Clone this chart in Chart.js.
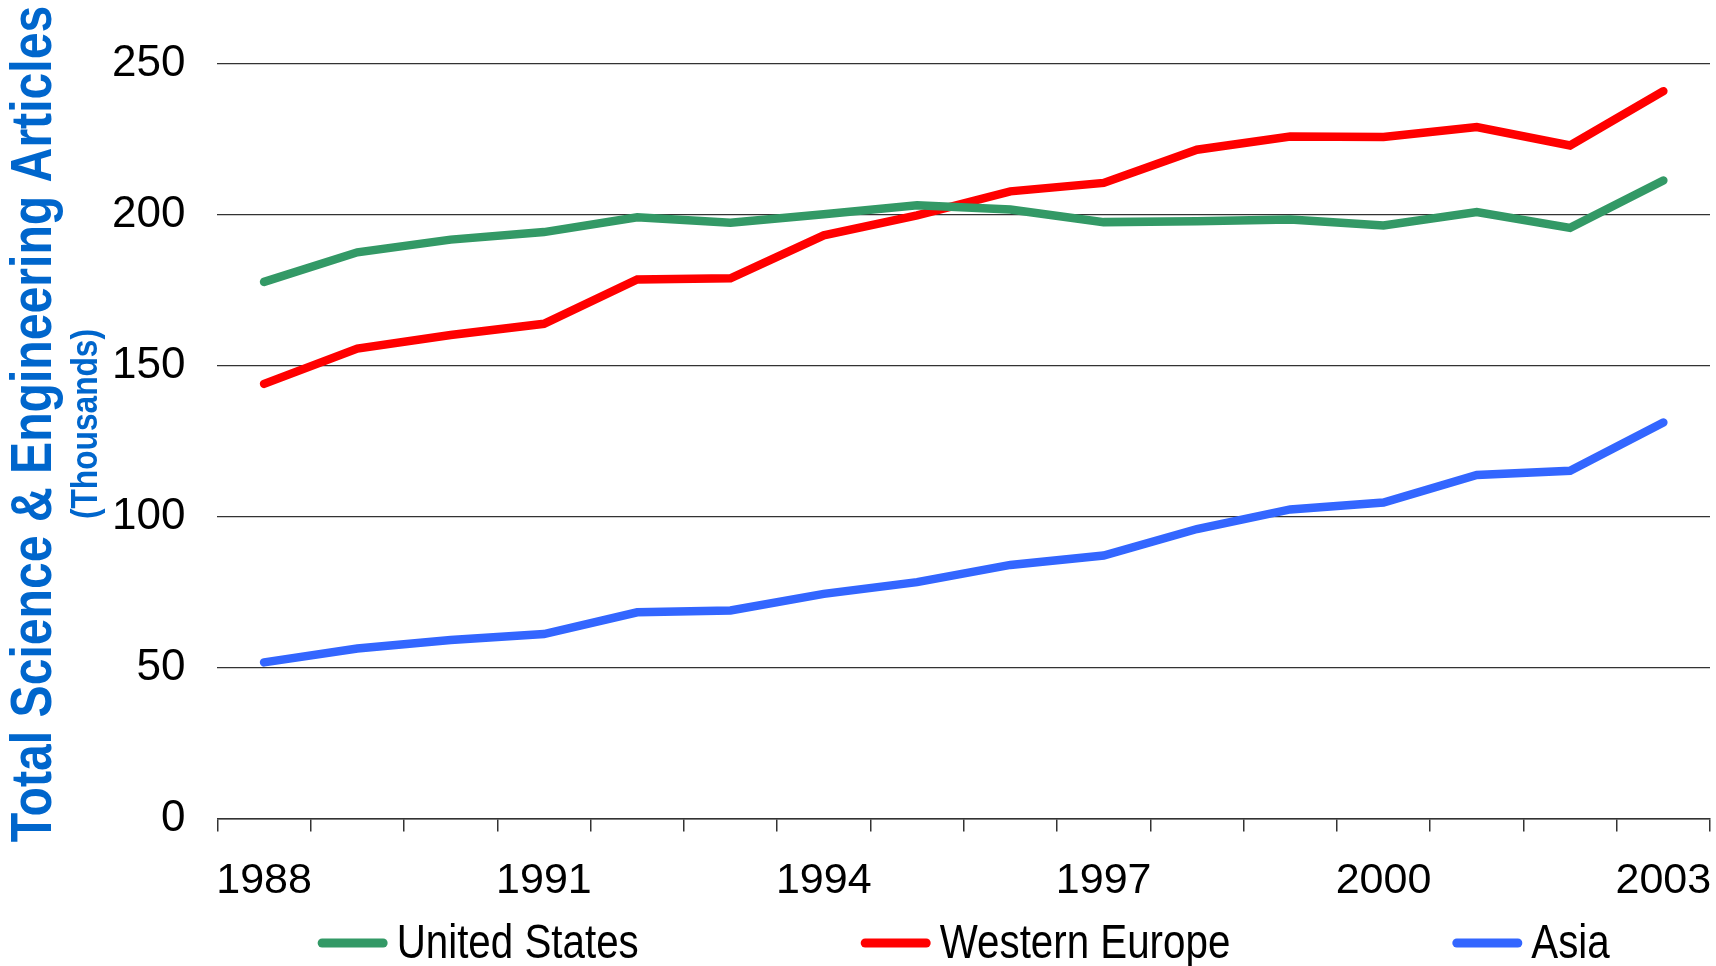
<!DOCTYPE html>
<html>
<head>
<meta charset="utf-8">
<title>Total Science & Engineering Articles</title>
<script src="https://cdn.jsdelivr.net/npm/chart.js@4.4.1/dist/chart.umd.min.js"></script>
<style>
    html, body { margin: 0; padding: 0; background: #ffffff; }
    #chart-box { position: relative; width: 1716px; height: 966px; }
</style>
</head>
<body>
<div id="chart-box">
    <canvas id="articlesChart"></canvas>
</div>
<script>
// Years on the x axis
const years = ['1988', '1989', '1990', '1991', '1992', '1993', '1994', '1995',
               '1996', '1997', '1998', '1999', '2000', '2001', '2002', '2003'];

// Articles per region, in thousands
const unitedStates = [177.8, 187.6, 191.8, 194.3, 199.2, 197.4, 200.2, 203.2,
                      201.8, 197.6, 197.9, 198.5, 196.5, 200.9, 195.7, 211.4];
const westernEurope = [144.0, 155.7, 160.2, 163.9, 178.6, 179.0, 193.2, 199.8,
                       207.8, 210.6, 221.6, 226.0, 225.8, 229.1, 223.0, 241.0];
const asia = [51.7, 56.3, 59.1, 61.1, 68.3, 68.9, 74.4, 78.3,
              84.0, 87.1, 95.9, 102.4, 104.7, 113.8, 115.2, 131.2];

// Y axis ticks
const yTicks = [0, 50, 100, 150, 200, 250];

const axisTitle = 'Total Science & Engineering Articles';
const axisSubTitle = '(Thousands)';

const sansFont = '"Liberation Sans", Arial, sans-serif';

// Draws the two-part y axis title on the left (squeezed to look like Arial Narrow)
const axisTitlePlugin = {
    id: 'axisTitle',
    afterDraw(chart) {
        const ctx = chart.ctx;
        const midY = 424;
        ctx.save();
        ctx.fillStyle = '#0066CC';
        ctx.textAlign = 'center';
        ctx.textBaseline = 'alphabetic';
        ctx.translate(51, midY);
        ctx.rotate(-Math.PI / 2);
        ctx.scale(0.83, 1);
        ctx.font = 'bold 58px ' + sansFont;
        ctx.fillText(axisTitle, 0, 0);
        ctx.restore();

        ctx.save();
        ctx.fillStyle = '#0066CC';
        ctx.textAlign = 'center';
        ctx.textBaseline = 'alphabetic';
        ctx.translate(97, midY);
        ctx.rotate(-Math.PI / 2);
        ctx.scale(0.88, 1);
        ctx.font = 'bold 36px ' + sansFont;
        ctx.fillText(axisSubTitle, 0, 0);
        ctx.restore();
    }
};

// Legend along the bottom, spread wide like the original
const wideLegendPlugin = {
    id: 'wideLegend',
    afterDraw(chart) {
        const ctx = chart.ctx;
        const area = chart.chartArea;
        const squeeze = 0.84;
        const lineLen = 70;
        const textGap = 9;
        const itemGap = 222;
        const y = 943;

        ctx.save();
        ctx.font = '48px ' + sansFont;
        const items = chart.data.datasets.map(ds => {
            const w = ctx.measureText(ds.label).width * squeeze;
            return { label: ds.label, color: ds.borderColor, textWidth: w, width: lineLen + textGap + w };
        });
        const total = items.reduce((s, it) => s + it.width, 0) + itemGap * (items.length - 1);
        let x = (area.left + area.right) / 2 - total / 2;

        items.forEach(it => {
            ctx.strokeStyle = it.color;
            ctx.lineWidth = 9;
            ctx.lineCap = 'round';
            ctx.beginPath();
            ctx.moveTo(x + 4.5, y);
            ctx.lineTo(x + lineLen - 4.5, y);
            ctx.stroke();

            ctx.save();
            ctx.translate(x + lineLen + textGap, y + 2);
            ctx.scale(squeeze, 1);
            ctx.fillStyle = '#000000';
            ctx.textAlign = 'left';
            ctx.textBaseline = 'middle';
            ctx.fillText(it.label, 0, 0);
            ctx.restore();
            x += it.width + itemGap;
        });
        ctx.restore();
    }
};

const ctx = document.getElementById('articlesChart').getContext('2d');
const articlesChart = new Chart(ctx, {
    type: 'line',
    data: {
        labels: years,
        datasets: [{
            label: 'United States',
            data: unitedStates,
            borderColor: '#339966', // Green
            borderWidth: 8.5
        },
        {
            label: 'Western Europe',
            data: westernEurope,
            borderColor: '#FF0000', // Red
            borderWidth: 8.5
        },
        {
            label: 'Asia',
            data: asia,
            borderColor: '#3366FF', // Blue
            borderWidth: 8.5
        }]
    },
    options: {
        responsive: true,
        maintainAspectRatio: false,
        animation: false,
        elements: {
            point: { radius: 0 },
            line: { tension: 0, fill: false, borderCapStyle: 'round', borderJoinStyle: 'miter' }
        },
        layout: {
            padding: { top: 64, right: 6, bottom: 35, left: 80 }
        },
        plugins: {
            legend: { display: false },
            tooltip: { enabled: false }
        },
        scales: {
            x: {
                offset: true,
                // the end labels sit right at the plot edges, so drop the extra side padding
                afterFit: function (scale) {
                    scale.paddingLeft = 0;
                    scale.paddingRight = 0;
                },
                grid: {
                    offset: true,
                    drawOnChartArea: false,
                    drawTicks: true,
                    tickLength: 13,
                    color: '#333333',
                    lineWidth: 1.5
                },
                border: { display: true, color: '#333333', width: 1.5 },
                ticks: {
                    autoSkip: false,
                    maxRotation: 0,
                    padding: 24,
                    color: '#000000',
                    font: { family: sansFont, size: 43 },
                    callback: function (value, index) {
                        return index % 3 === 0 ? years[index] : '';
                    }
                }
            },
            y: {
                min: yTicks[0],
                max: yTicks[yTicks.length - 1],
                afterBuildTicks: function (scale) {
                    scale.ticks = yTicks.map(v => ({ value: v }));
                },
                grid: {
                    drawTicks: false,
                    color: '#333333',
                    lineWidth: 1.2
                },
                border: { display: false },
                ticks: {
                    padding: 32,
                    color: '#000000',
                    font: { family: sansFont, size: 44 }
                }
            }
        }
    },
    plugins: [axisTitlePlugin, wideLegendPlugin]
});
</script>
</body>
</html>
